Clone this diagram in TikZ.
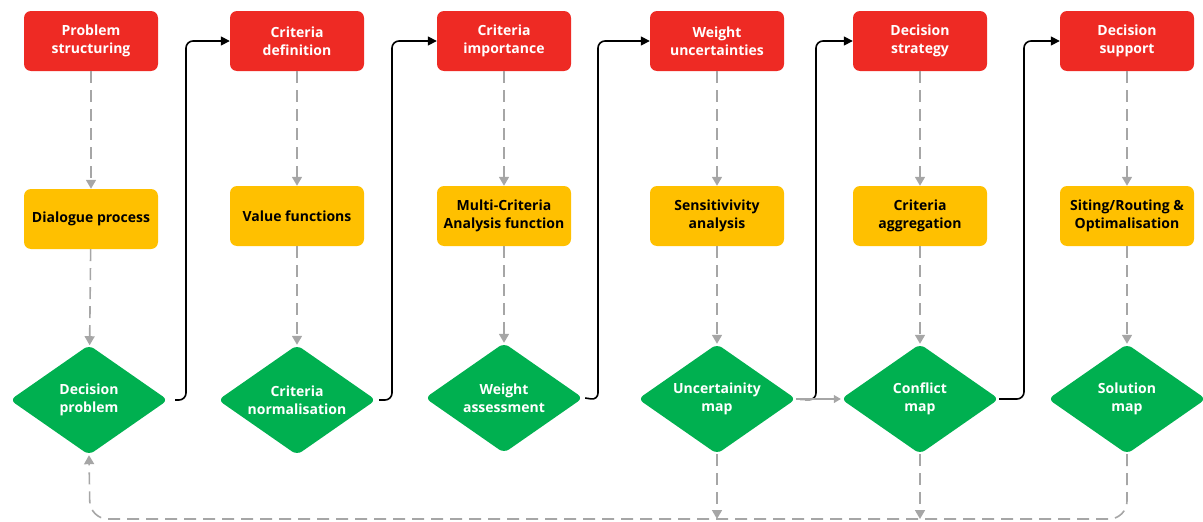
\documentclass[tikz,border=0pt]{standalone}
\usepackage{fontspec}
\setmainfont{Open Sans}
\usepackage{xcolor}
\usetikzlibrary{shapes.geometric,arrows.meta,positioning}
\definecolor{stepred}{HTML}{EE2A24}
\definecolor{stepyellow}{HTML}{FFC000}
\definecolor{stepgreen}{HTML}{00B050}
\definecolor{linegray}{HTML}{A6A6A6}

\begin{document}
\begin{tikzpicture}[x=1pt,y=-1pt,
    labelfont/.style={font=\bfseries\fontsize{14}{18}\selectfont, align=center},
    redbox/.style={labelfont, fill=stepred, text=white, rounded corners=7pt,
        minimum width=134pt, minimum height=60pt, inner sep=2pt},
    yellowbox/.style={labelfont, fill=stepyellow, text=black, rounded corners=7pt,
        minimum width=134pt, minimum height=60pt, inner sep=2pt},
    greendiamond/.style={labelfont, diamond, aspect=1.45, fill=stepgreen, text=white,
        rounded corners=6pt, minimum width=158pt, minimum height=110pt,
        inner xsep=-22pt, inner ysep=0pt},
    flow/.style={draw=linegray, line width=1.6pt, dash pattern=on 12pt off 7pt,
        -{Triangle[width=10pt,length=9pt]}},
    feed/.style={draw=linegray, line width=1.2pt, -{Triangle[width=8pt,length=7pt]}},
    jump/.style={draw=black, line width=1.6pt, rounded corners=7pt,
        -{Triangle[width=9pt,length=9pt]}}]
    \useasboundingbox (0,0) rectangle (1203,522);

    % top row
    \node[redbox] (ps) at (91, 41) {Problem\\structuring};
    \node[redbox] (cd) at (297, 41) {Criteria\\definition};
    \node[redbox] (ci) at (504, 41) {Criteria\\importance};
    \node[redbox] (wu) at (717, 41) {Weight\\uncertainties};
    \node[redbox] (dst) at (920, 41) {Decision\\strategy};
    \node[redbox] (dsu) at (1127, 41) {Decision\\support};

    % middle row
    \node[yellowbox] (dlg) at (91, 219) {Dialogue process};
    \node[yellowbox] (vf) at (297, 216) {Value functions};
    \node[yellowbox] (mca) at (504, 216) {Multi-Criteria\\Analysis function};
    \node[yellowbox] (sa) at (717, 216) {Sensitivivity\\analysis};
    \node[yellowbox] (agg) at (920, 216) {Criteria\\aggregation};
    \node[yellowbox] (sro) at (1127, 216) {Siting/Routing \&\\Optimalisation};

    % bottom row
    \node[greendiamond] (dp) at (89, 400) {Decision\\problem};
    \node[greendiamond] (cn) at (297, 400) {Criteria\\normalisation};
    \node[greendiamond] (wa) at (504, 398) {Weight\\assessment};
    \node[greendiamond] (um) at (717, 399) {Uncertainity\\map};
    \node[greendiamond] (cm) at (920, 399) {Conflict\\map};
    \node[greendiamond] (sm) at (1127, 399) {Solution\\map};

    % column flows
    \draw[flow] (ps) -- (dlg);
    \draw[flow] (dlg) -- (dp);
    \draw[flow] (cd) -- (vf);
    \draw[flow] (vf) -- (cn);
    \draw[flow] (ci) -- (mca);
    \draw[flow] (mca) -- (wa);
    \draw[flow] (wu) -- (sa);
    \draw[flow] (sa) -- (um);
    \draw[flow] (dst) -- (agg);
    \draw[flow] (agg) -- (cm);
    \draw[flow] (dsu) -- (sro);
    \draw[flow] (sro) -- (sm);

    % jumps to next step
    \draw[jump] ([xshift=7pt]dp.east) -- (186, 400) -- (186, 41) -- (cd.west);
    \draw[jump] ([xshift=3pt]cn.east) -- (392, 400) -- (392, 41) -- (ci.west);
    \draw[jump] ([xshift=2pt]wa.east) -- (598, 400) -- (598, 41) -- (wu.west);
    \draw[jump] (um.east) -- (816, 400) -- (816, 41) -- (dst.west);
    \draw[jump] (cm.east) -- (1024, 399) -- (1024, 41) -- (dsu.west);
    \draw[feed] (um.east) -- (cm.west);

    % feedback loop
    \coordinate (umfoot) at (717, 519);
    \coordinate (cmfoot) at (920, 519);
    \draw[flow] (um.south) -- (umfoot);
    \draw[flow] (cm.south) -- (cmfoot);
    \draw[flow, rounded corners=18pt] (sm.south) -- (1127, 519) -- (90, 519) -- (dp.south);
\end{tikzpicture}
\end{document}
